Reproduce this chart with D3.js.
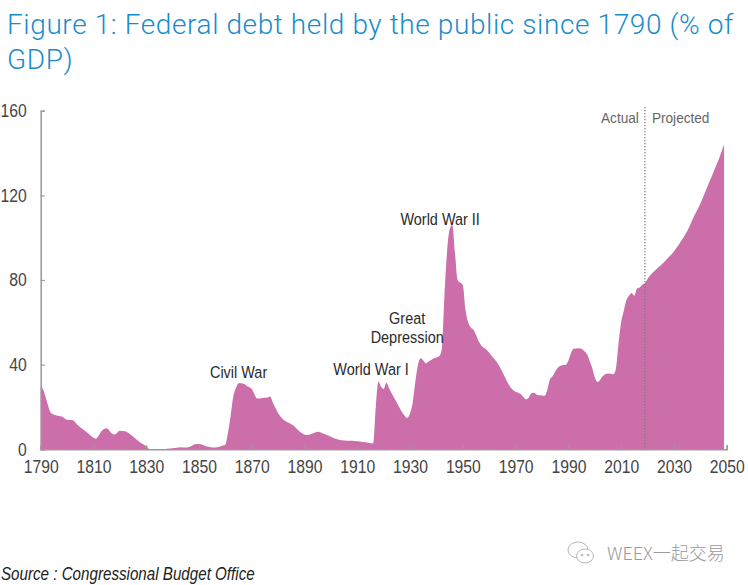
<!DOCTYPE html>
<html>
<head>
<meta charset="utf-8">
<script src="https://cdn.jsdelivr.net/npm/d3@7"></script>
<style>
  body { margin: 0; background: #fff; }
  svg { display: block; }
</style>
</head>
<body>
<script>
var width = 748,
  height = 585;

// federal debt held by the public, % of GDP
var years = [
  1790, 1791, 1792, 1794, 1796, 1798, 1800, 1802, 1804, 1806, 1808, 1810, 1811, 1812, 1813, 1815,
  1817, 1818, 1820, 1822, 1824, 1826, 1828, 1830, 1831, 1833, 1835, 1838, 1840, 1843, 1845, 1847,
  1849, 1851, 1853, 1855, 1857, 1859, 1860, 1861, 1862, 1863, 1864, 1865, 1867, 1868, 1870, 1871,
  1872, 1874, 1876, 1877, 1878, 1879, 1880, 1882, 1884, 1886, 1888, 1890, 1891, 1893, 1895, 1897,
  1899, 1901, 1903, 1905, 1907, 1909, 1911, 1913, 1916, 1917, 1918, 1919, 1920, 1921, 1922, 1923,
  1925, 1927, 1929, 1930, 1931, 1932, 1933, 1934, 1935, 1936, 1937, 1938, 1939, 1941, 1942, 1943,
  1944, 1945, 1946, 1947, 1948, 1950, 1951, 1952, 1953, 1954, 1955, 1956, 1957, 1959, 1961, 1963,
  1965, 1967, 1969, 1971, 1972, 1974, 1975, 1976, 1977, 1978, 1980, 1981, 1982, 1983, 1984, 1986,
  1988, 1989, 1990, 1991, 1992, 1994, 1995, 1996, 1997, 1998, 1999, 2000, 2001, 2002, 2003, 2004,
  2005, 2007, 2008, 2009, 2010, 2011, 2012, 2013, 2014, 2015, 2016, 2017, 2018, 2019, 2020, 2022,
  2025, 2027, 2030, 2032, 2035, 2037, 2040, 2042, 2045, 2047, 2049
];

var debt = [
  29.5, 28, 24, 17, 16, 15.5, 14, 13.8, 11.5, 9.5, 7.5, 5.5, 5, 6.5, 8.5, 10,
  7.5, 7, 8.8, 8.5, 7, 5, 3, 1.5, 0.3, 0, 0, 0.3, 0.5, 1, 0.8, 1.5,
  2.5, 2.3, 1.3, 0.9, 1, 1.8, 2.2, 8, 16, 25, 29, 31.2, 31, 30, 28.5, 26,
  24, 24.3, 24.5, 25, 22, 19.5, 17, 14, 12.5, 11, 8.5, 7, 6.7, 7.5, 8.3, 7.5,
  6.5, 5.3, 4.5, 4.2, 4, 3.9, 3.7, 3.3, 2.8, 20, 32, 29.5, 28.5, 31.5, 29, 26.5,
  22, 17.5, 14.8, 17, 22, 32, 40, 43, 42, 40.6, 41.5, 42.2, 43, 44, 47, 72,
  93, 104, 106, 93, 80, 77.5, 66, 60, 57.5, 56.5, 54, 51, 49, 47, 44, 41,
  36.5, 31.5, 28, 26.7, 26, 23.6, 24.5, 26.5, 26.7, 25.8, 25.4, 25.3, 28, 33, 34.5, 38.5,
  39.8, 40, 42, 45.5, 47.5, 47.8, 47.5, 46.5, 45, 42, 38.5, 34, 31.8, 32.8, 34.5, 35.5,
  35.8, 35.5, 38, 50, 60, 65.5, 70.5, 72.5, 73.8, 72.5, 76, 76.5, 77.8, 78.5, 80.5, 83.5,
  87, 89.5, 93.5, 97, 103, 108.5, 116, 122, 131, 137, 144
];

var xTicks = [1790, 1810, 1830, 1850, 1870, 1890, 1910, 1930, 1950, 1970, 1990, 2010, 2030, 2050];
var yTicks = [0, 40, 80, 120, 160];

var events = ["Civil War", "World War I", "Great Depression", "World War II"];
var eventYears = [1865, 1915.2, 1928.9, 1941.4];
var eventValues = [33.7, 35.1, 50.2, 106];

var splitYear = 2019;

var titleLines = ["Figure 1: Federal debt held by the public since 1790 (% of", "GDP)"];
var sourceText = "Source : Congressional Budget Office";
var watermark = "WEEX一起交易";

var narrow = "'Liberation Sans', Arial, sans-serif";

var data = years.map(function(y, i) {
  return { year: y, value: debt[i] };
});

var x = d3.scaleLinear()
  .domain([1790, 2050])
  .range([40.7, 726.7]);

var y = d3.scaleLinear()
  .domain([0, 160])
  .range([449.3, 110.7]);

var svg = d3.select("body").append("svg")
  .attr("width", width)
  .attr("height", height);

// title
svg.append("g")
  .selectAll("text")
  .data(titleLines)
  .enter().append("text")
    .attr("x", 7)
    .attr("y", function(d, i) { return 34 + i * 35; })
    .attr("fill", "#1a8ccc")
    .attr("font-family", "Roboto, sans-serif")
    .attr("font-weight", 300)
    .attr("font-size", "28px")
    .attr("letter-spacing", "0.6px")
    .text(function(d) { return d; });

var area = d3.area()
  .x(function(d) { return x(d.year); })
  .y0(y(0))
  .y1(function(d) { return y(d.value); })
  .curve(d3.curveMonotoneX);

svg.append("path")
  .datum(data)
  .attr("fill", "#cb6ea9")
  .attr("d", area);

// axes
var xAxis = d3.axisBottom(x)
  .tickValues(xTicks)
  .tickSize(-4)
  .tickPadding(10)
  .tickFormat(d3.format("d"));

var yAxis = d3.axisLeft(y)
  .tickValues(yTicks)
  .tickSize(-4)
  .tickPadding(16.5);

var gx = svg.append("g")
  .attr("transform", "translate(0," + y(0) + ")")
  .call(xAxis);

var gy = svg.append("g")
  .attr("transform", "translate(" + x(1790) + ",0)")
  .call(yAxis);

[gx, gy].forEach(function(g) {
  g.select(".domain").attr("stroke", "#999").attr("stroke-width", 1.5);
  g.selectAll(".tick line").attr("stroke", "#999").attr("stroke-width", 1.2);
  g.selectAll(".tick text")
    .attr("fill", "#444")
    .attr("font-family", narrow)
    .attr("font-size", "18.5px")
    .attr("transform", "scale(0.85,1)");
});

gx.selectAll(".tick text").attr("dy", "0.75em");

// actual / projected divider
svg.append("line")
  .attr("x1", x(splitYear))
  .attr("x2", x(splitYear))
  .attr("y1", 107)
  .attr("y2", y(0))
  .attr("stroke", "#777")
  .attr("stroke-width", 1.2)
  .attr("stroke-dasharray", "1.2,1.8");

svg.append("text")
  .attr("transform", "translate(" + (x(splitYear) - 6) + ",123) scale(0.88,1)")
  .attr("text-anchor", "end")
  .attr("fill", "#666")
  .attr("font-family", narrow)
  .attr("font-size", "15.5px")
  .text("Actual");

svg.append("text")
  .attr("transform", "translate(" + (x(splitYear) + 7) + ",123) scale(0.88,1)")
  .attr("fill", "#666")
  .attr("font-family", narrow)
  .attr("font-size", "15.5px")
  .text("Projected");

// event labels
var labels = svg.append("g")
  .attr("fill", "#2a2a2a")
  .attr("font-family", narrow)
  .attr("font-size", "17px")
  .attr("text-anchor", "middle");

events.forEach(function(name, i) {
  var words = name === "Great Depression" ? ["Great", "Depression"] : [name];
  labels.append("text")
    .attr("transform", "translate(" + x(eventYears[i]) + "," + y(eventValues[i]) + ") scale(0.85,1)")
    .selectAll("tspan")
    .data(words)
    .enter().append("tspan")
      .attr("x", 0)
      .attr("dy", function(d, j) { return j === 0 ? -(words.length - 1) * 19 : 19; })
      .text(function(d) { return d; });
});

// watermark
var wm = svg.append("g")
  .attr("transform", "translate(568,542)")
  .attr("fill", "none")
  .attr("stroke", "#b8b8b8")
  .attr("stroke-width", 1);

wm.append("ellipse").attr("cx", 10).attr("cy", 8).attr("rx", 10).attr("ry", 8);
wm.append("ellipse").attr("cx", 17).attr("cy", 14).attr("rx", 8.5).attr("ry", 7).attr("fill", "#fff");
wm.append("circle").attr("cx", 14).attr("cy", 13).attr("r", 0.9).attr("fill", "#b8b8b8");
wm.append("circle").attr("cx", 20).attr("cy", 13).attr("r", 0.9).attr("fill", "#b8b8b8");

svg.append("text")
  .attr("x", 607)
  .attr("y", 560)
  .attr("fill", "#9a9a9a")
  .attr("font-family", "'Noto Sans CJK SC', sans-serif")
  .attr("font-weight", 300)
  .attr("font-size", "18px")
  .text(watermark);

// source
svg.append("text")
  .attr("transform", "translate(1,580) scale(0.82,1)")
  .attr("fill", "#222")
  .attr("font-family", narrow)
  .attr("font-style", "italic")
  .attr("font-size", "18.5px")
  .text(sourceText);
</script>
</body>
</html>
